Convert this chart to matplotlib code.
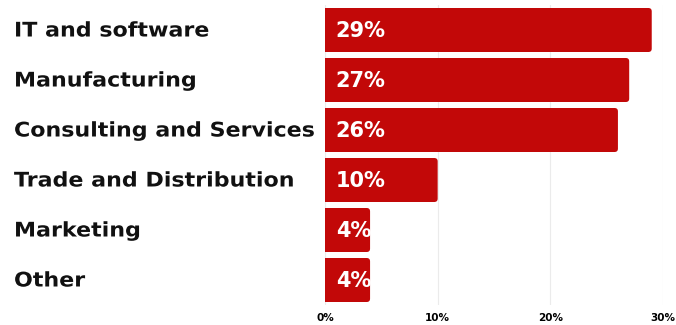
import matplotlib.pyplot as plt
from matplotlib.patches import FancyBboxPatch
from matplotlib.patheffects import AbstractPathEffect
from matplotlib.transforms import Affine2D, blended_transform_factory

categories = ["IT and software", "Manufacturing", "Consulting and Services",
              "Trade and Distribution", "Marketing", "Other"]
shares = [29, 27, 26, 10, 4, 4]
xticks = [0, 10, 20, 30]

bar_color = "#C20808"
height = 0.88
radius = 0.3


class Widen(AbstractPathEffect):
    """Stretch glyphs horizontally from the text's left edge."""
    def __init__(self, sx):
        super().__init__()
        self.sx = sx

    def draw_path(self, renderer, gc, tpath, affine, rgbFace=None):
        renderer.draw_path(gc, tpath, Affine2D().scale(self.sx, 1) + affine, rgbFace)


fig = plt.figure(figsize=(6.76, 3.25), dpi=100)
ax = fig.add_axes([325 / 676, 20 / 325, 338 / 676, 300 / 325])
ax.set_xlim(0, 30)
ax.set_ylim(len(categories) - 0.5, -0.5)

# px per x-unit vs px per y-unit, so the corner radius stays round
aspect = (338 / 30) / (300 / len(categories))

for i, (name, v) in enumerate(zip(categories, shares)):
    box = FancyBboxPatch((-radius, i - height / 2), v + radius, height,
                         boxstyle=f"round,pad=0,rounding_size={radius}",
                         mutation_aspect=aspect, facecolor=bar_color,
                         edgecolor="none", zorder=3, clip_on=True)
    ax.add_patch(box)
    ax.text(0.95, i + 0.02, f"{v}%", color="white", fontsize=15,
            fontweight="bold", va="center", ha="left", zorder=4)

trans = blended_transform_factory(fig.transFigure, ax.transData)
for i, name in enumerate(categories):
    ax.text(14 / 676, i + 0.02, name, transform=trans, fontsize=14.5,
            fontweight="bold", va="center", ha="left", color="#111111",
            path_effects=[Widen(1.1)])

ax.set_xticks(xticks)
ax.set_xticklabels([f"{t}%" for t in xticks], fontsize=7.5, fontweight="bold")
ax.set_yticks([])
ax.tick_params(axis="x", length=0, pad=6)
ax.grid(axis="x", color="#ebebeb", linewidth=0.8, zorder=0)
for s in ax.spines.values():
    s.set_visible(False)

fig.savefig("out.png", dpi=100)
